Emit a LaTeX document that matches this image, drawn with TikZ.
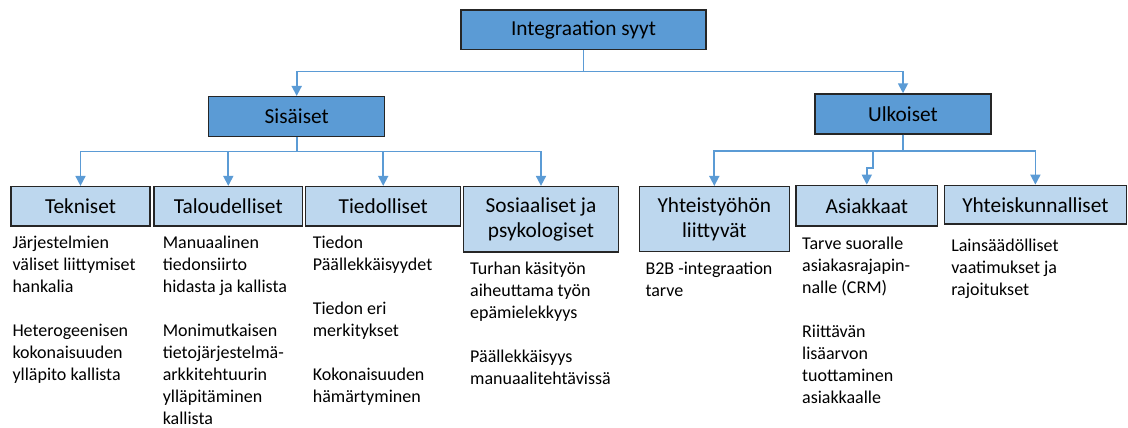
\documentclass[tikz,border=0pt]{standalone}
\usepackage{fontspec}
\setmainfont{Carlito}
\usetikzlibrary{arrows.meta,positioning}
\definecolor{mainblue}{RGB}{91,155,213}
\definecolor{lightblue}{RGB}{189,215,238}
\definecolor{frame}{RGB}{38,38,38}

\tikzset{
  mainbox/.style={draw=frame,line width=1.1pt,fill=mainblue,inner sep=0pt,align=center,
    minimum height=29.5pt,font=\fontsize{16}{18.75}\selectfont},
  subbox/.style={mainbox,fill=lightblue},
  notes/.style={inner sep=0pt,align=left,font=\fontsize{13.5}{16.5}\selectfont,
    execute at begin node=\strut},
  link/.style={draw=mainblue,line width=1.3pt,-{Triangle[length=7.5pt,width=7.5pt]}}
}

\begin{document}
\begin{tikzpicture}[x=0.75pt,y=-0.75pt]
  \useasboundingbox (0,0) rectangle (1128,428);

  % levels 1 and 2
  \node[mainbox,minimum width=183.75pt] (root) at (583.5,29.7) {Integraation syyt};
  \node[mainbox,minimum width=132pt,minimum height=30pt] (sis) at (296.7,116.7) {Sisäiset};
  \node[mainbox,minimum width=132pt,minimum height=30pt] (ulk) at (903,114) {Ulkoiset};

  % level 3
  \node[subbox,minimum width=104.25pt] (tek) at (80.5,206.3) {Tekniset};
  \node[subbox,minimum width=111.5pt] (tal) at (228.3,206.3) {Taloudelliset};
  \node[subbox,minimum width=116.25pt] (tie) at (383.2,206.3) {Tiedolliset};
  \node[subbox,minimum width=116.5pt,minimum height=49pt] (sos) at (541,219.3) {Sosiaaliset ja\\psykologiset};
  \node[subbox,minimum width=112.5pt,minimum height=48.75pt] (yht) at (714.3,219.2) {Yhteistyöhön\\liittyvät};
  \node[subbox,minimum width=106.3pt,minimum height=30.5pt] (asi) at (866.8,205.7) {Asiakkaat};
  \node[subbox,minimum width=136.5pt,minimum height=29pt] (yhk) at (1035.4,204.7) {Yhteiskunnalliset};

  % connectors
  \draw[link] (root.south) -- ++(0,21.4) -| (sis.north);
  \draw[link] (root.south) -- ++(0,21.4) -| (ulk.north);
  \foreach \k in {tek,tal,tie,sos}
    \draw[link] (sis.south) -- ++(0,14) -| (\k.north);
  \foreach \k in {yht,yhk}
    \draw[link] (ulk.south) -- ++(0,16.5) -| (\k.north);
  \draw[link] (ulk.south) -- ++(0,16.5) -| ++(-29.7,16.7) -| (asi.north);

  % notes under the boxes
  \node[notes,below right=6.5pt and 1.5pt of tek.south west] (tek-txt)
    {Järjestelmien\\väliset liittymiset\\hankalia\\[16.5pt]Heterogeenisen\\kokonaisuuden\\ylläpito kallista};
  \node[notes,below right=6.5pt and 7pt of tal.south west] (tal-txt)
    {Manuaalinen\\tiedonsiirto\\hidasta ja kallista\\[16.5pt]Monimutkaisen\\tietojärjestelmä-\\arkkitehtuurin\\ylläpitäminen\\kallista};
  \node[notes,below right=6.5pt and 5.7pt of tie.south west] (tie-txt)
    {Tiedon\\Päällekkäisyydet\\[16.5pt]Tiedon eri\\merkitykset\\[16.5pt]Kokonaisuuden\\hämärtyminen};
  \node[notes,below right=6.5pt and 5.5pt of sos.south west] (sos-txt)
    {Turhan käsityön\\aiheuttama työn\\epämielekkyys\\[16.5pt]Päällekkäisyys\\manuaalitehtävissä};
  \node[notes,below right=6.7pt and 5pt of yht.south west] (yht-txt)
    {B2B -integraation\\tarve};
  \node[notes,below right=7.7pt and 5pt of asi.south west] (asi-txt)
    {Tarve suoralle\\asiakasrajapin-\\nalle (CRM)\\[16.5pt]Riittävän\\lisäarvon\\tuottaminen\\asiakkaalle};
  \node[notes,below right=10.4pt and 5.5pt of yhk.south west] (yhk-txt)
    {Lainsäädölliset\\vaatimukset ja\\rajoitukset};
\end{tikzpicture}
\end{document}
